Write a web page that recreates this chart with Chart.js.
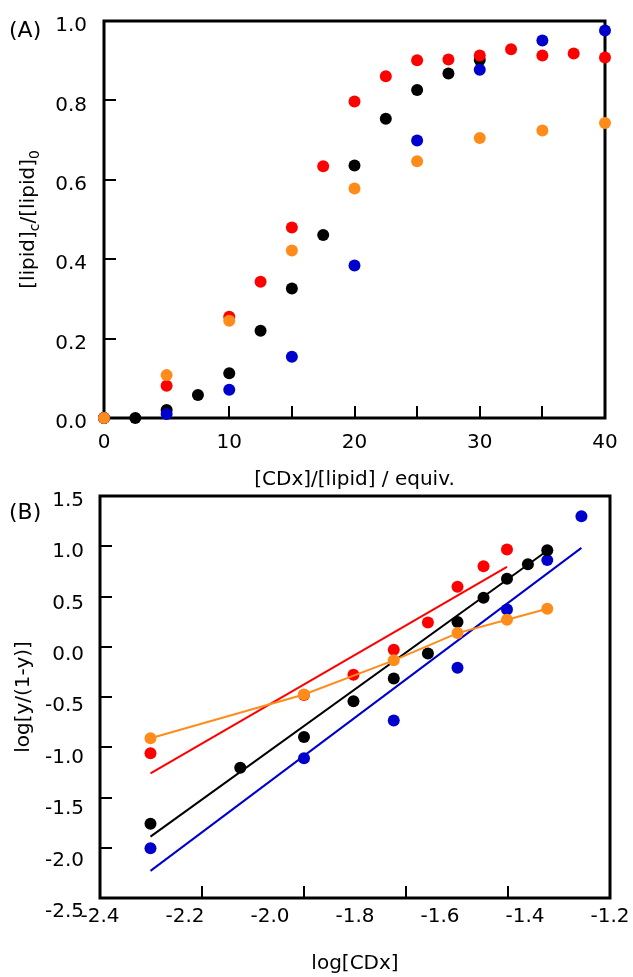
<!DOCTYPE html>
<html>
<head>
<meta charset="utf-8">
<script src="https://cdn.jsdelivr.net/npm/chart.js@4.4.1/dist/chart.umd.min.js"></script>
<style>
  html, body { margin: 0; padding: 0; background: #fff; }
  #wrap { position: relative; width: 633px; height: 977px; overflow: hidden; }
  canvas { position: absolute; left: 0; }
  #chartA { top: 0; }
  #chartB { top: 480px; }
  .tag { position: absolute; left: 9px; font: 22px "DejaVu Sans", sans-serif; line-height: 1; color: #000; }
</style>
</head>
<body>
<div id="wrap">
  <canvas id="chartA" width="633" height="500"></canvas>
  <canvas id="chartB" width="633" height="497"></canvas>
  <div class="tag" style="top:19px">(A)</div>
  <div class="tag" style="top:501px">(B)</div>
</div>
<script>
// ---- (A) [lipid]c/[lipid]0 vs equivalents ----
var xTicksA = [0, 10, 20, 30, 40];
var yTicksA = [0, 0.2, 0.4, 0.6, 0.8, 1.0];

var blackEqA = [0, 2.5, 5, 7.5, 10, 12.5, 15, 17.5, 20, 22.5, 25, 27.5, 30];
var blackFracA = [0, 0, 0.02, 0.058, 0.113, 0.22, 0.326, 0.461, 0.636, 0.754, 0.826, 0.868, 0.902];

var redEqA = [0, 5, 10, 12.5, 15, 17.5, 20, 22.5, 25, 27.5, 30, 32.5, 35, 37.5, 40];
var redFracA = [0, 0.081, 0.255, 0.343, 0.48, 0.634, 0.797, 0.861, 0.901, 0.903, 0.913, 0.929, 0.913, 0.918, 0.908];

var blueEqA = [0, 5, 10, 15, 20, 25, 30, 35, 40];
var blueFracA = [0, 0.01, 0.071, 0.154, 0.384, 0.699, 0.877, 0.951, 0.976];

var orangeEqA = [0, 5, 10, 15, 20, 25, 30, 35, 40];
var orangeFracA = [0, 0.108, 0.245, 0.422, 0.578, 0.647, 0.705, 0.724, 0.743];

// ---- (B) Hill-type plot ----
var xTicksB = [-2.4, -2.2, -2.0, -1.8, -1.6, -1.4, -1.2];
var yTicksB = [1.5, 1.0, 0.5, 0.0, -0.5, -1.0, -1.5, -2.0, -2.5];

var blackLogB = [-2.301, -2.125, -2.0, -1.903, -1.824, -1.757, -1.699, -1.648, -1.602, -1.561, -1.523];
var blackValB = [-1.762, -1.203, -0.898, -0.543, -0.315, -0.066, 0.246, 0.487, 0.676, 0.822, 0.961];

var redLogB = [-2.301, -2.0, -1.903, -1.824, -1.757, -1.699, -1.648, -1.602];
var redValB = [-1.06, -0.48, -0.278, -0.03, 0.242, 0.597, 0.802, 0.968];

var blueLogB = [-2.301, -2.0, -1.824, -1.699, -1.602, -1.523, -1.456];
var blueValB = [-2.004, -1.11, -0.735, -0.208, 0.371, 0.862, 1.299];

var orangeLogB = [-2.301, -2.0, -1.824, -1.699, -1.602, -1.523];
var orangeValB = [-0.911, -0.475, -0.135, 0.136, 0.268, 0.378];

// fitted lines (end points)
var redFitX = [-2.301, -1.602];
var redFitY = [-1.259, 0.795];
var blackFitX = [-2.301, -1.53];
var blackFitY = [-1.889, 0.93];
var blueFitX = [-2.301, -1.456];
var blueFitY = [-2.23, 0.984];

var RED = '#ff0000', BLACK = '#000000', BLUE = '#0000cc', ORANGE = '#ff8c1a';

Chart.defaults.font.family = '"DejaVu Sans", sans-serif';
Chart.defaults.color = '#000';

var tickFont = { size: 20 };
var titleFont = { size: 20 };

function pts(xs, ys) {
    var out = [];
    for (var i = 0; i < xs.length; i++) out.push({ x: xs[i], y: ys[i] });
    return out;
}

function dots(data, color) {
    return {
        data: data, backgroundColor: color, borderColor: color,
        pointRadius: 6, pointBorderWidth: 0, pointHoverRadius: 6, clip: false
    };
}

// fixed axis size, and no extra layout padding from the tick labels
function fixW(w) {
    return function (s) { s.width = w; s.paddingTop = 0; s.paddingBottom = 0; };
}
function fixH(h) {
    return function (s) { s.height = h; s.paddingLeft = 0; s.paddingRight = 0; };
}

var tickGrid = { drawOnChartArea: false, drawTicks: true, tickLength: -12, lineWidth: 2, color: '#000' };

var frame = {
    id: 'frame',
    beforeDatasetsDraw: function (chart) {
        var a = chart.chartArea, ctx = chart.ctx;
        ctx.save();
        ctx.lineWidth = 3;
        ctx.strokeStyle = '#000';
        ctx.strokeRect(a.left, a.top, a.right - a.left, a.bottom - a.top);
        ctx.restore();
    }
};

// y title of (A) with subscripts
var yTitleA = {
    id: 'yTitleA',
    afterDraw: function (chart) {
        var ctx = chart.ctx, a = chart.chartArea;
        var parts = [
            { t: '[lipid]', s: 20, dy: 0 },
            { t: 'c', s: 14, dy: 6 },
            { t: '/[lipid]', s: 20, dy: 0 },
            { t: '0', s: 14, dy: 6 }
        ];
        ctx.save();
        ctx.translate(29, (a.top + a.bottom) / 2);
        ctx.rotate(-Math.PI / 2);
        ctx.fillStyle = '#000';
        ctx.textBaseline = 'middle';
        ctx.textAlign = 'left';
        var total = 0;
        parts.forEach(function (p) {
            ctx.font = p.s + 'px "DejaVu Sans", sans-serif';
            p.w = ctx.measureText(p.t).width;
            total += p.w;
        });
        var x = -total / 2;
        parts.forEach(function (p) {
            ctx.font = p.s + 'px "DejaVu Sans", sans-serif';
            ctx.fillText(p.t, x, p.dy);
            x += p.w;
        });
        ctx.restore();
    }
};

new Chart(document.getElementById('chartA'), {
    type: 'scatter',
    data: {
        datasets: [
            dots(pts(orangeEqA, orangeFracA), ORANGE),
            dots(pts(blueEqA, blueFracA), BLUE),
            dots(pts(redEqA, redFracA), RED),
            dots(pts(blackEqA, blackFracA), BLACK)
        ]
    },
    options: {
        responsive: false,
        animation: false,
        devicePixelRatio: 1,
        layout: { padding: { top: 21, right: 28, left: 0, bottom: 0 } },
        plugins: { legend: { display: false }, tooltip: { enabled: false } },
        scales: {
            x: {
                type: 'linear', min: 0, max: 40,
                afterFit: fixH(82),
                grid: tickGrid,
                border: { display: false },
                ticks: {
                    stepSize: 5, padding: 25, font: tickFont, maxRotation: 0, autoSkip: false,
                    callback: function (v) { return xTicksA.indexOf(v) >= 0 ? String(v) : ''; }
                },
                title: { display: true, text: '[CDx]/[lipid] / equiv.', font: titleFont, padding: { top: 0, bottom: 8 } }
            },
            y: {
                type: 'linear', min: 0, max: 1,
                afterFit: fixW(104),
                afterBuildTicks: function (s) { s.ticks = yTicksA.map(function (v) { return { value: v }; }); },
                grid: tickGrid,
                border: { display: false },
                ticks: {
                    padding: 29, labelOffset: 5, font: tickFont, autoSkip: false,
                    callback: function (v) { return v.toFixed(1); }
                }
            }
        }
    },
    plugins: [frame, yTitleA]
});

new Chart(document.getElementById('chartB'), {
    type: 'scatter',
    data: {
        datasets: [
            Object.assign(dots(pts(orangeLogB, orangeValB), ORANGE), { showLine: true, borderWidth: 2 }),
            dots(pts(redLogB, redValB), RED),
            dots(pts(blackLogB, blackValB), BLACK),
            dots(pts(blueLogB, blueValB), BLUE),
            { data: pts(redFitX, redFitY), showLine: true, borderColor: RED, borderWidth: 2, pointRadius: 0 },
            { data: pts(blackFitX, blackFitY), showLine: true, borderColor: BLACK, borderWidth: 2, pointRadius: 0 },
            { data: pts(blueFitX, blueFitY), showLine: true, borderColor: BLUE, borderWidth: 2, pointRadius: 0 }
        ]
    },
    options: {
        responsive: false,
        animation: false,
        devicePixelRatio: 1,
        layout: { padding: { top: 16, right: 23, left: 0, bottom: 0 } },
        plugins: { legend: { display: false }, tooltip: { enabled: false } },
        scales: {
            x: {
                type: 'linear', position: 'bottom', weight: 0, min: -2.4, max: -1.4,
                afterFit: fixH(0),
                grid: tickGrid,
                border: { display: false },
                ticks: { display: false, stepSize: 0.2 }
            },
            xl: {
                type: 'linear', position: 'bottom', weight: 1, min: -2.4, max: -1.2,
                afterFit: fixH(79),
                afterBuildTicks: function (s) { s.ticks = xTicksB.map(function (v) { return { value: v }; }); },
                grid: { display: false, drawTicks: false },
                border: { display: false },
                ticks: {
                    padding: 7, font: tickFont, maxRotation: 0, autoSkip: false,
                    callback: function (v) { return v.toFixed(1); }
                },
                title: { display: true, text: 'log[CDx]', font: titleFont, padding: { top: 0, bottom: 1 } }
            },
            y: {
                type: 'linear', position: 'left', weight: 0, min: -2.5, max: 1.5,
                afterFit: fixW(0),
                grid: tickGrid,
                border: { display: false },
                ticks: { display: false, stepSize: 0.5 }
            },
            yl: {
                type: 'linear', position: 'left', weight: 1, min: -2.366, max: 1.546,
                afterFit: fixW(100),
                afterBuildTicks: function (s) { s.ticks = yTicksB.map(function (v) { return { value: v }; }); },
                grid: { display: false, drawTicks: false },
                border: { display: false },
                ticks: {
                    padding: 16, font: tickFont, autoSkip: false,
                    callback: function (v) { return v.toFixed(1); }
                },
                title: { display: true, text: 'log[y/(1-y)]', font: titleFont, padding: { top: 12, bottom: 0 } }
            }
        }
    },
    plugins: [frame]
});
</script>
</body>
</html>
